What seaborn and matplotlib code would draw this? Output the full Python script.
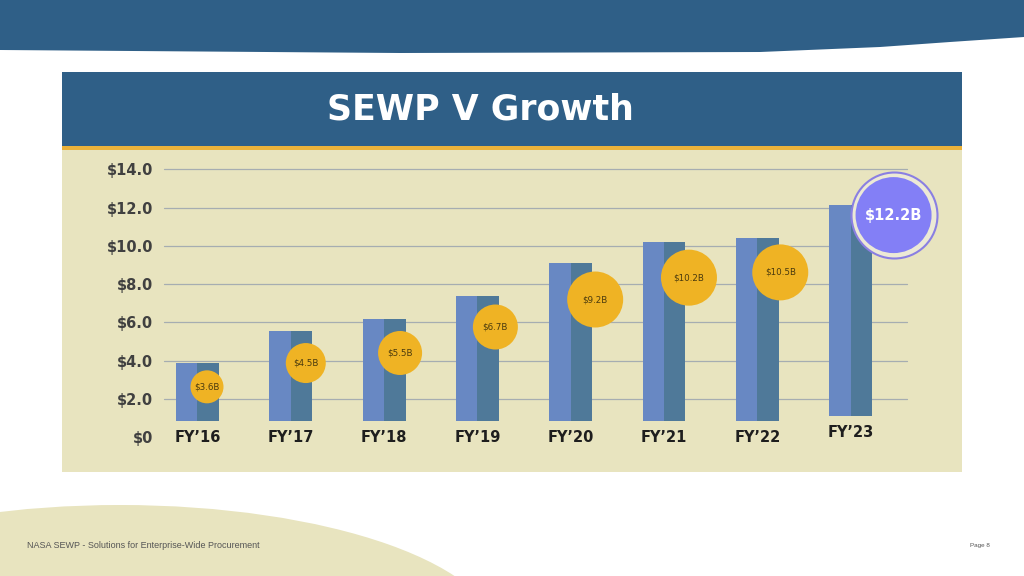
import matplotlib
matplotlib.use("Agg")
import matplotlib.pyplot as plt
import seaborn as sns
import pandas as pd
from matplotlib.patches import Rectangle, Polygon, Ellipse

# --- data ---
years = ["FY\u201916", "FY\u201917", "FY\u201918", "FY\u201919", "FY\u201920", "FY\u201921", "FY\u201922", "FY\u201923"]
bar_top = [3.89, 5.55, 6.18, 7.38, 9.13, 10.22, 10.39, 12.13]
bar_base = [0.86, 0.86, 0.86, 0.86, 0.86, 0.86, 0.86, 1.12]
labels = ["$3.6B", "$4.5B", "$5.5B", "$6.7B", "$9.2B", "$10.2B", "$10.5B", "$12.2B"]
yticks = [0, 2, 4, 6, 8, 10, 12, 14]

# bubble styling (pixels): diameter and offset from bar top
bubble_d = [33, 40, 44, 45, 56, 56, 56, 76]
bubble_dx = [9.5, 15, 16, 18, 24.5, 25, 23, 43]
bubble_dy = [24, 32, 34, 31, 37, 36, 34, 10]

W, H = 1024, 576
DPI = 100
NAVY = "#2F5F87"
BEIGE = "#E8E4BF"
LIGHT = "#6888C3"
DARK = "#4F7999"
GOLD = "#EFB324"

sns.set_theme(style="white")
plt.rcParams["font.family"] = ["DejaVu Sans"]

fig = plt.figure(figsize=(W / DPI, H / DPI), dpi=DPI)
fig.patch.set_facecolor("white")


def fx(x):
    return x / W


def fy(y):
    return 1 - y / H


# top band with curved right edge
band = [(0, 0), (W, 0), (W, 37), (950, 42), (880, 47), (760, 52), (400, 53), (0, 50)]
fig.patches.append(Polygon([(fx(a), fy(b)) for a, b in band], closed=True,
                           transform=fig.transFigure, facecolor=NAVY, edgecolor="none", zorder=0))

# footer blob
fig.patches.append(Ellipse((fx(120), fy(640)), fx(760), 270 / H, transform=fig.transFigure,
                           facecolor=BEIGE, edgecolor="none", zorder=0))

# chart box: header, gold stripe, beige body
fig.patches.append(Rectangle((fx(62), fy(472)), fx(900), (472 - 150) / H,
                             transform=fig.transFigure, facecolor=BEIGE, edgecolor="none", zorder=0))
fig.patches.append(Rectangle((fx(62), fy(150)), fx(900), 4 / H,
                             transform=fig.transFigure, facecolor="#EBB23A", edgecolor="none", zorder=0))
fig.patches.append(Rectangle((fx(62), fy(146)), fx(900), (146 - 72) / H,
                             transform=fig.transFigure, facecolor=NAVY, edgecolor="none", zorder=0))

fig.text(fx(480), fy(110), "SEWP V Growth", color="white", fontsize=25,
         fontweight="bold", ha="center", va="center")

fig.text(fx(27), fy(545), "NASA SEWP - Solutions for Enterprise-Wide Procurement",
         fontsize=6.5, color="#555555", ha="left", va="center", family="Liberation Sans")
fig.text(fx(990), fy(545), "Page 8", fontsize=4.5, color="#555555", ha="right",
         va="center", family="Liberation Sans")

# plot axes
ax = fig.add_axes([fx(164), fy(437.3), fx(907 - 164), (437.3 - 169.3) / H])
ax.set_zorder(3)
ax.set_facecolor("none")
ax.set_xlim(-0.359, 7.605)
ax.set_ylim(0, 14)

ppx = 93.3   # pixels per category
ppy = 19.15  # pixels per $1B

for t in yticks[1:]:
    ax.axhline(t, color="#A6ADB1", lw=0.9, zorder=1, clip_on=False)

df = pd.DataFrame({"year": years, "top": bar_top, "base": bar_base, "label": labels})
pos = list(range(len(years)))
bw = 0.46
heights = [t - b for t, b in zip(bar_top, bar_base)]
ax.bar([p - bw / 4 for p in pos], heights, width=bw / 2, bottom=bar_base,
       color=LIGHT, edgecolor="none", zorder=2)
ax.bar([p + bw / 4 for p in pos], heights, width=bw / 2, bottom=bar_base,
       color=DARK, edgecolor="none", zorder=2)

df["bx"] = [p + dx / ppx for p, dx in zip(pos, bubble_dx)]
df["by"] = [t - dy / ppy for t, dy in zip(bar_top, bubble_dy)]
df["s"] = [(d * 72 / DPI) ** 2 for d in bubble_d]

reg = df.iloc[:-1]
last = df.iloc[-1]
sns.scatterplot(data=reg, x="bx", y="by", size="s", sizes=(reg["s"].min(), reg["s"].max()),
                color=GOLD, edgecolor="none", legend=False, ax=ax, zorder=4, clip_on=False)
for r in reg.itertuples():
    ax.text(r.bx, r.by, r.label, ha="center", va="center", fontsize=6.3,
            color="#4A3A0E", zorder=5)

# highlighted latest year: purple disc inside a thin ring
ring = (86 * 72 / DPI) ** 2
ax.scatter([last["bx"]], [last["by"]], s=ring, facecolor="#ECE9D6", edgecolor="#8A7FE2",
           linewidth=1.5, zorder=4, clip_on=False)
ax.scatter([last["bx"]], [last["by"]], s=last["s"], facecolor="#837FF6", edgecolor="none",
           zorder=5, clip_on=False)
ax.text(last["bx"], last["by"], last["label"], ha="center", va="center", fontsize=10.5,
        fontweight="bold", color="white", zorder=6)

# category labels sit on the $0 line (the last one sits a little higher)
for p, yr in zip(pos, years):
    lift = 5 / ppy if p == pos[-1] else 0
    ax.text(p, lift, yr, ha="center", va="center", fontsize=10.5, fontweight="bold",
            color="#1E1E1E", zorder=3, clip_on=False)

ax.set_yticks(yticks)
ax.set_yticklabels(["$0"] + [f"${v:.1f}" for v in yticks[1:]], fontsize=10.5,
                   fontweight="bold", color="#404040")
ax.set_xticks([])
ax.tick_params(axis="y", length=0, pad=8)
sns.despine(ax=ax, left=True, bottom=True)
ax.set_xlabel("")
ax.set_ylabel("")

fig.savefig("out.png", dpi=DPI)
